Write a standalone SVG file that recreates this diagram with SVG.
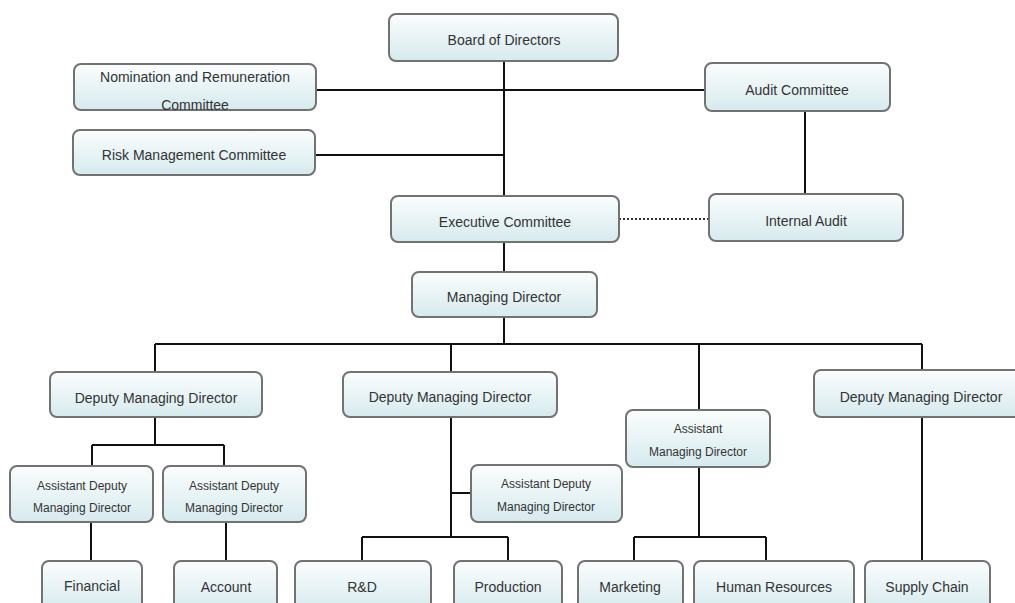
<svg xmlns="http://www.w3.org/2000/svg" width="1015" height="603" viewBox="0 0 1015 603">
<defs>
<linearGradient id="g" x1="0" y1="0" x2="0" y2="1">
<stop offset="0" stop-color="#fbfdfd"/>
<stop offset="1" stop-color="#d6eaee"/>
</linearGradient>
<style>
.box{fill:url(#g);stroke:#727272;stroke-width:2}
.t{font-family:"Liberation Sans",Arial,sans-serif;font-size:14px;fill:#333;text-anchor:middle}
.s{font-size:12px}
.c{fill:none;stroke:#111;stroke-width:2}
.d{fill:none;stroke:#333;stroke-width:2;stroke-dasharray:2 2}
</style>
</defs>
<rect width="1015" height="603" fill="#fff"/>
<g id="connectors">
<path class="c" d="M504 61V196M316 90H705M315 155H504M805 111V194M504 242V272M504 317V344M155 344H922M155 344V372M451 344V372M699 344V410M922 344V370"/>
<path class="c" d="M155 417V445M92 445H224M92 445V466M224 445V466M91 522V561M226 522V561"/>
<path class="c" d="M451 417V537M451 493H471M362 537H508M362 537V561M508 537V561"/>
<path class="c" d="M699 467V537M634 537H766M634 537V561M766 537V561M922 417V561"/>
<path class="d" d="M619 219H709"/>
</g>
<g id="board"><rect class="box" x="389" y="14" width="229" height="47" rx="7"/><text class="t" x="504" y="45">Board of Directors</text></g>
<g id="nomination"><rect class="box" x="74" y="64" width="242" height="46" rx="7"/><text class="t" x="195" y="82">Nomination and  Remuneration</text><text class="t" x="195" y="110">Committee</text></g>
<g id="audit"><rect class="box" x="705" y="63" width="185" height="48" rx="7"/><text class="t" x="797" y="95">Audit Committee</text></g>
<g id="risk"><rect class="box" x="73" y="130" width="242" height="45" rx="7"/><text class="t" x="194" y="160">Risk Management  Committee</text></g>
<g id="executive"><rect class="box" x="391" y="196" width="228" height="46" rx="7"/><text class="t" x="505" y="227">Executive Committee</text></g>
<g id="internal"><rect class="box" x="709" y="194" width="194" height="47" rx="7"/><text class="t" x="806" y="226">Internal Audit</text></g>
<g id="md"><rect class="box" x="412" y="272" width="185" height="45" rx="7"/><text class="t" x="504" y="302">Managing Director</text></g>
<g id="dmd1"><rect class="box" x="50" y="372" width="212" height="45" rx="7"/><text class="t" x="156" y="403">Deputy Managing Director</text></g>
<g id="dmd2"><rect class="box" x="343" y="372" width="214" height="45" rx="7"/><text class="t" x="450" y="402">Deputy Managing Director</text></g>
<g id="amd"><rect class="box" x="626" y="410" width="144" height="57" rx="7"/><text class="t s" x="698" y="433">Assistant</text><text class="t s" x="698" y="456">Managing Director</text></g>
<g id="dmd4"><rect class="box" x="814" y="370" width="216" height="47" rx="7"/><text class="t" x="921" y="402">Deputy Managing Director</text></g>
<g id="admd1"><rect class="box" x="10" y="466" width="143" height="56" rx="7"/><text class="t s" x="82" y="490">Assistant Deputy</text><text class="t s" x="82" y="512">Managing Director</text></g>
<g id="admd2"><rect class="box" x="163" y="466" width="143" height="56" rx="7"/><text class="t s" x="234" y="490">Assistant Deputy</text><text class="t s" x="234" y="512">Managing Director</text></g>
<g id="admd3"><rect class="box" x="471" y="465" width="151" height="57" rx="7"/><text class="t s" x="546" y="488">Assistant Deputy</text><text class="t s" x="546" y="511">Managing Director</text></g>
<g id="financial"><rect class="box" x="42" y="561" width="100" height="50" rx="7"/><text class="t" x="92" y="591">Financial</text></g>
<g id="account"><rect class="box" x="174" y="561" width="103" height="50" rx="7"/><text class="t" x="226" y="592">Account</text></g>
<g id="rd"><rect class="box" x="295" y="561" width="136" height="50" rx="7"/><text class="t" x="362" y="592">R&amp;D</text></g>
<g id="production"><rect class="box" x="454" y="561" width="108" height="50" rx="7"/><text class="t" x="508" y="592">Production</text></g>
<g id="marketing"><rect class="box" x="578" y="561" width="105" height="50" rx="7"/><text class="t" x="630" y="592">Marketing</text></g>
<g id="hr"><rect class="box" x="694" y="561" width="160" height="50" rx="7"/><text class="t" x="774" y="592">Human Resources</text></g>
<g id="supply"><rect class="box" x="865" y="561" width="125" height="50" rx="7"/><text class="t" x="927" y="592">Supply Chain</text></g>
</svg>
